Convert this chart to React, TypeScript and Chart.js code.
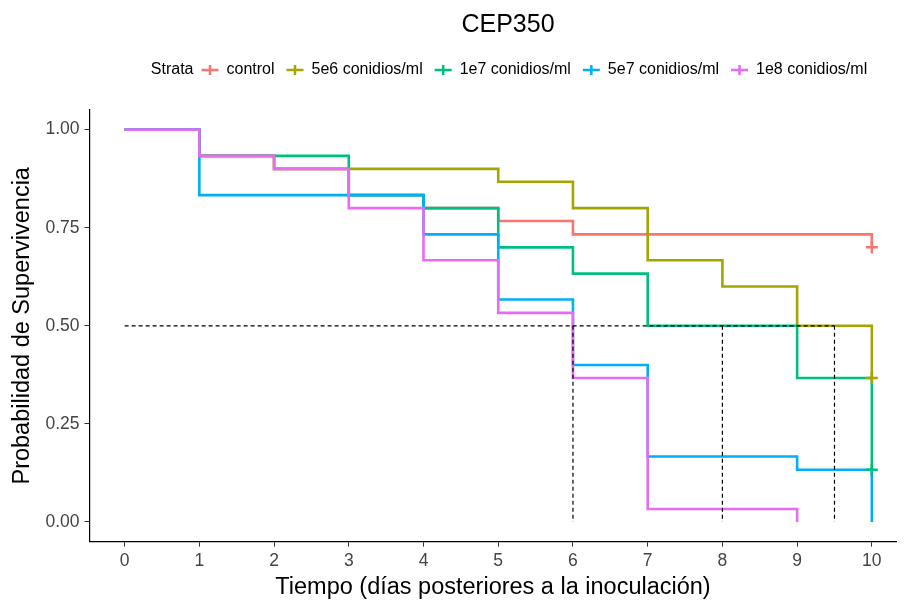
import React, { useEffect, useRef } from 'react';
import { Chart, registerables } from 'chart.js';

Chart.register(...registerables);

const FONT = "'Liberation Sans', Arial, Helvetica, sans-serif";

const chartTitle = 'CEP350';
const legendTitle = 'Strata';
const xTitle = 'Tiempo (días posteriores a la inoculación)';
const yTitle = 'Probabilidad de Supervivencia';

const strata = ['control', '5e6 conidios/ml', '1e7 conidios/ml', '5e7 conidios/ml', '1e8 conidios/ml'];
const colors = ['#F8766D', '#A3A500', '#00BF7D', '#00B0F6', '#E76BF3'];

// Kaplan-Meier step curves (time, survival)
const controlTimes = [0, 1, 2, 3, 4, 5, 6, 10];
const controlSurv = [1, 0.933, 0.9, 0.833, 0.8, 0.767, 0.733, 0.7];
const e6Times = [0, 1, 2, 5, 6, 7, 8, 9, 10];
const e6Surv = [1, 0.933, 0.9, 0.867, 0.8, 0.667, 0.6, 0.5, 0.367];
const e7Times = [0, 1, 3, 4, 5, 6, 7, 9, 10];
const e7Surv = [1, 0.933, 0.833, 0.8, 0.7, 0.633, 0.5, 0.367, 0.133];
const e57Times = [0, 1, 4, 5, 6, 7, 9, 10];
const e57Surv = [1, 0.833, 0.733, 0.567, 0.4, 0.167, 0.133, 0];
const e8Times = [0, 1, 2, 3, 4, 5, 6, 7, 9];
const e8Surv = [1, 0.933, 0.9, 0.8, 0.667, 0.533, 0.367, 0.033, 0];

// Censoring marks (time, survival) per stratum
const censorTimes = [[10], [10], [10], [], []];
const censorSurv = [[0.7], [0.367], [0.133], [], []];

// Median survival lines
const medianLevel = 0.5;
const medianStart = 0;
const medianTimes = [6, 8, 9.5];

const xTicks = [0, 1, 2, 3, 4, 5, 6, 7, 8, 9, 10];
const yTicks = [0, 0.25, 0.5, 0.75, 1];

const seriesTimes = [controlTimes, e6Times, e7Times, e57Times, e8Times];
const seriesSurv = [controlSurv, e6Surv, e7Surv, e57Surv, e8Surv];

const overlayPlugin = {
  id: 'overlay',
  afterDraw(chart: any) {
    const ctx = chart.ctx as CanvasRenderingContext2D;
    ctx.save();
    // Title
    ctx.fillStyle = '#000';
    ctx.font = `25px ${FONT}`;
    ctx.textAlign = 'center';
    ctx.textBaseline = 'alphabetic';
    ctx.fillText(chartTitle, 508, 32);

    // Legend
    ctx.font = `16px ${FONT}`;
    const keyW = 17;
    const gapKeyText = 8;
    const gapItem = 12;
    const gapTitle = 8;
    const titleW = ctx.measureText(legendTitle).width;
    let total = titleW + gapTitle;
    strata.forEach((s, i) => {
      total += keyW + gapKeyText + ctx.measureText(s).width + (i < strata.length - 1 ? gapItem : 0);
    });
    let x = 509 - total / 2;
    const y = 70;
    ctx.textAlign = 'left';
    ctx.textBaseline = 'middle';
    ctx.fillStyle = '#000';
    ctx.fillText(legendTitle, x, y);
    x += titleW + gapTitle;
    strata.forEach((s, i) => {
      ctx.strokeStyle = colors[i];
      ctx.lineWidth = 2.5;
      ctx.beginPath();
      ctx.moveTo(x, y);
      ctx.lineTo(x + keyW, y);
      ctx.moveTo(x + keyW / 2, y - 5);
      ctx.lineTo(x + keyW / 2, y + 5);
      ctx.stroke();
      x += keyW + gapKeyText;
      ctx.fillStyle = '#000';
      ctx.fillText(s, x, y);
      x += ctx.measureText(s).width + gapItem;
    });
    ctx.restore();
  },
};

export default function App() {
  const canvasRef = useRef<HTMLCanvasElement | null>(null);

  useEffect(() => {
    const canvas = canvasRef.current;
    if (!canvas) return;

    const curveSets: any[] = strata.map((name, i) => ({
      type: 'line',
      label: name,
      data: seriesTimes[i].map((t, k) => ({ x: t, y: seriesSurv[i][k] })),
      stepped: 'before',
      borderColor: colors[i],
      backgroundColor: colors[i],
      borderWidth: 2.6,
      pointRadius: 0,
      fill: false,
      order: 10 - i,
    }));

    const censorSets: any[] = strata.map((name, i) => ({
      type: 'line',
      label: name + ' censor',
      data: censorTimes[i].map((t, k) => ({ x: t, y: censorSurv[i][k] })),
      showLine: false,
      pointStyle: 'cross',
      pointRadius: 6,
      pointBorderWidth: 2.5,
      borderColor: colors[i],
      backgroundColor: colors[i],
      order: 1,
    }));

    const medianSets: any[] = [
      {
        type: 'line',
        label: 'median-h',
        data: [
          { x: medianStart, y: medianLevel },
          { x: Math.max(...medianTimes), y: medianLevel },
        ],
        borderColor: '#000',
        borderWidth: 1.2,
        borderDash: [4, 3],
        pointRadius: 0,
        fill: false,
        order: 0,
      },
      ...medianTimes.map((m) => ({
        type: 'line',
        label: 'median-v' + m,
        data: [
          { x: m, y: medianLevel },
          { x: m, y: 0 },
        ],
        borderColor: '#000',
        borderWidth: 1.2,
        borderDash: [4, 3],
        pointRadius: 0,
        fill: false,
        order: 0,
      })),
    ];

    const chart = new Chart(canvas, {
      type: 'line',
      data: { datasets: [...curveSets, ...censorSets, ...medianSets] },
      options: {
        animation: false,
        responsive: false,
        events: [],
        layout: { padding: { top: 110, left: 0, right: 0, bottom: 0 } },
        plugins: {
          legend: { display: false },
          title: { display: false },
          tooltip: { enabled: false },
        },
        scales: {
          x: {
            type: 'linear',
            min: -0.47,
            max: 10.33,
            afterBuildTicks: (s: any) => {
              s.ticks = xTicks.map((v) => ({ value: v }));
            },
            afterFit: (s: any) => {
              s.height = 62.4;
              s.paddingLeft = 0;
              s.paddingRight = 0;
            },
            ticks: {
              autoSkip: false,
              maxRotation: 0,
              padding: 4,
              color: '#444',
              font: { family: FONT, size: 17.5 },
              callback: (v: any) => String(v),
            },
            grid: { display: true, drawOnChartArea: false, drawTicks: true, tickLength: 5, color: '#333', lineWidth: 1 },
            border: { display: true, color: '#000', width: 1.2 },
            title: {
              display: true,
              text: xTitle,
              color: '#000',
              font: { family: FONT, size: 23.5 },
              padding: { top: 0, bottom: 2 },
            },
          },
          y: {
            type: 'linear',
            min: -0.05,
            max: 1.05,
            afterBuildTicks: (s: any) => {
              s.ticks = yTicks.map((v) => ({ value: v }));
            },
            afterFit: (s: any) => {
              s.width = 89.5;
              s.paddingTop = 0;
              s.paddingBottom = 0;
            },
            ticks: {
              autoSkip: false,
              padding: 5,
              color: '#444',
              font: { family: FONT, size: 17.5 },
              callback: (v: any) => Number(v).toFixed(2),
            },
            grid: { display: true, drawOnChartArea: false, drawTicks: true, tickLength: 5, color: '#333', lineWidth: 1 },
            border: { display: true, color: '#000', width: 1.2 },
            title: {
              display: true,
              text: yTitle,
              color: '#000',
              font: { family: FONT, size: 23.5 },
              padding: { top: 8, bottom: 0 },
            },
          },
        },
      },
      plugins: [overlayPlugin],
    } as any);

    return () => chart.destroy();
  }, []);

  return (
    <div style={{ position: 'absolute', left: 0, top: 0, width: 905, height: 604, background: '#fff' }}>
      <canvas ref={canvasRef} width={905} height={604} style={{ display: 'block' }} />
    </div>
  );
}
